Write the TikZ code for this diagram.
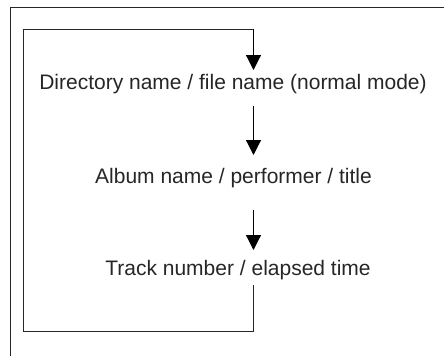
\documentclass[tikz,border=0pt]{standalone}
\usepackage{fontspec}
\setmainfont{Liberation Sans}
\usetikzlibrary{arrows.meta}
\begin{document}
\begin{tikzpicture}[x=1pt,y=-1pt,
  lbl/.style={font=\fontsize{21}{24}\selectfont, inner sep=1pt, text=black!85},
  flow/.style={line width=1.2pt, -{Triangle[width=15pt,length=15pt]}},
  wire/.style={line width=1pt, black!85}]
\useasboundingbox (0,0) rectangle (444,356);
\node[lbl, anchor=base] (t1) at (233,89) {Directory name / file name (normal mode)};
\node[lbl, anchor=base] (t2) at (233.5,183) {Album name / performer / title};
\node[lbl, anchor=base] (t3) at (238,275) {Track number / elapsed time};
\coordinate (col) at (253.5,0);
\coordinate (tr) at (253.5,29);
\coordinate (tl) at (23,29);
\coordinate (bl) at (23,331);
\coordinate (br) at (253.5,331);
\coordinate (o1) at (10,356);
\coordinate (o2) at (10,7);
\coordinate (o3) at (444,7);
\draw[wire] (o1) -- (o2) -- (o3);
\draw[wire] ([yshift=-10pt]t3.base -| col) -- (br) -- (bl) -- (tl) -- (tr);
\draw[flow] (tr) -- ([yshift=19pt]t1.base -| col);
\draw[flow] ([yshift=-17pt]t1.base -| col) -- ([yshift=28pt]t2.base -| col);
\draw[flow] ([yshift=-27pt]t2.base -| col) -- ([yshift=25pt]t3.base -| col);
\end{tikzpicture}
\end{document}
